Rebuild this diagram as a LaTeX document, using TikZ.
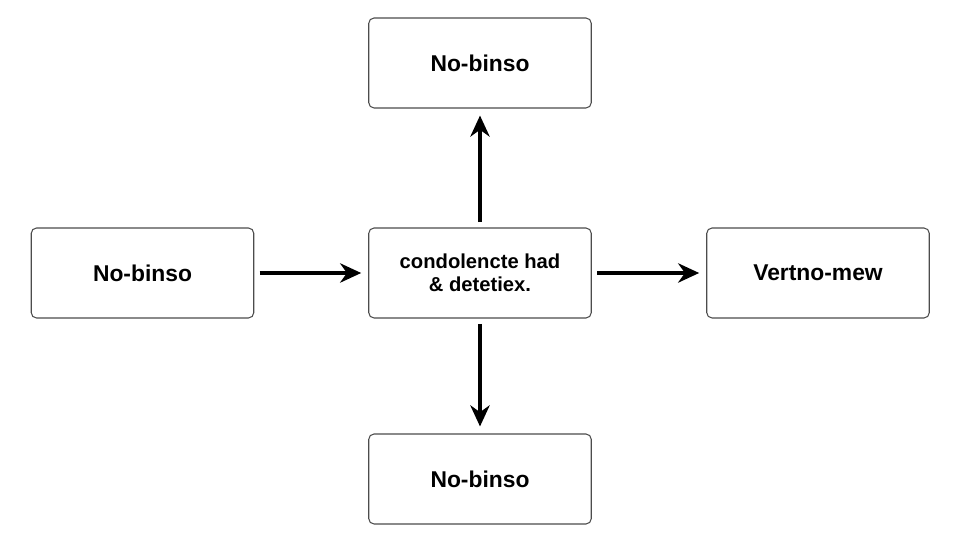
\documentclass[tikz,border=0pt]{standalone}
\usepackage{fontspec}
\setmainfont{Liberation Sans}
\usetikzlibrary{arrows.meta}

\begin{document}
\begin{tikzpicture}[
    box/.style={draw=black!70,rounded corners=3pt,line width=0.6pt,
        minimum width=4.45cm,minimum height=1.8cm,align=center,
        font=\fontsize{13}{15}\selectfont\bfseries},
    link/.style={line width=2pt,-{Stealth[length=12pt,width=11pt]},
        shorten <=3pt,shorten >=4pt}]
       \useasboundingbox(0,0)rectangle(19.2,10.8);%枠
       \node[box](top)at(9.6,9.54){No-binso};%上
       \node[box](left)at(2.85,5.34){No-binso};%左
       \node[box,font=\fontsize{11.5}{13}\selectfont\bfseries](mid)at(9.6,5.34)
           {condolencte had\\\& detetiex.};%中央
       \node[box](right)at(16.36,5.34){Vertno-mew};%右
       \node[box](bot)at(9.6,1.22){No-binso};%下

       \draw[link](left)--(mid);
       \draw[link](mid)--(right);
       \draw[link](mid)--(top);
       \draw[link](mid)--(bot);
\end{tikzpicture}
\end{document}
